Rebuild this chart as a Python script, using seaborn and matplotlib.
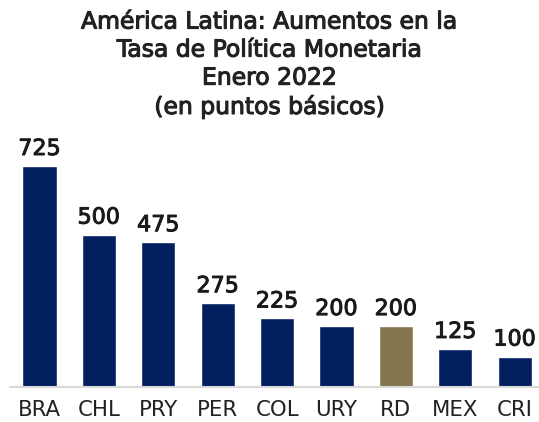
import matplotlib
matplotlib.use("Agg")
import matplotlib.pyplot as plt
import matplotlib.patheffects as pe
import seaborn as sns
import pandas as pd

paises = ["BRA", "CHL", "PRY", "PER", "COL", "URY", "RD", "MEX", "CRI"]
aumentos = [725, 500, 475, 275, 225, 200, 200, 125, 100]
colores = ["#022060", "#022060", "#022060", "#022060", "#022060", "#022060", "#84754E", "#022060", "#022060"]
titulo = "América Latina: Aumentos en la\nTasa de Política Monetaria\nEnero 2022\n(en puntos básicos)"

sns.set_theme(style="white")
plt.rcParams["font.family"] = ["DejaVu Sans"]

df = pd.DataFrame({"pais": paises, "valor": aumentos})

fig = plt.figure(figsize=(5.39, 4.22), dpi=100)
ax = fig.add_axes([10/539, 35/422, 529/539, 0.578])
sns.barplot(data=df, x="pais", y="valor", hue="pais", palette=colores,
            legend=False, width=0.575, ax=ax, saturation=1)
ax.set_xlim(-0.497, 8.409)
ax.set_ylim(0, 800)
for i, v in enumerate(aumentos):
    ax.annotate(f"{v}", (i, v), xytext=(0, 5), textcoords="offset points",
                ha="center", va="bottom", fontsize=16, color="#1a1a1a",
                path_effects=[pe.withStroke(linewidth=0.7, foreground="#1a1a1a")])
for s in ["top", "right", "left"]:
    ax.spines[s].set_visible(False)
ax.spines["bottom"].set_color("#d9d9d9")
ax.spines["bottom"].set_linewidth(1.5)
ax.set_yticks([])
ax.set_xlabel("")
ax.set_ylabel("")
ax.tick_params(axis="x", length=0, pad=9, labelsize=15.3, labelcolor="#222222")
fig.text(0.5, 0.975, titulo, ha="center", va="top", fontsize=16.9, color="#222222",
         linespacing=1.28,
         path_effects=[pe.withStroke(linewidth=0.8, foreground="#222222")])
fig.savefig("out.png", dpi=100)
